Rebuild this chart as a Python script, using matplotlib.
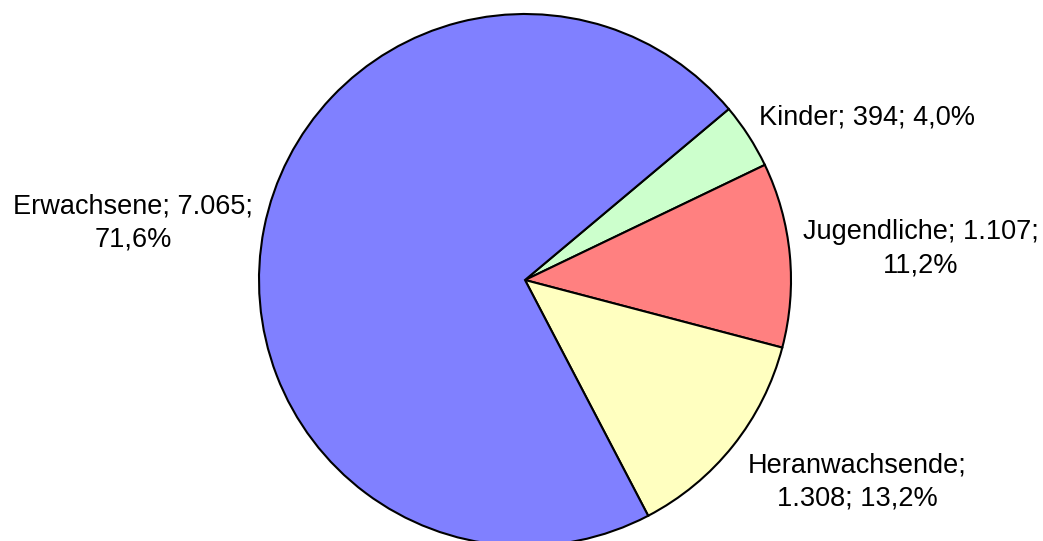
import matplotlib
matplotlib.use("Agg")
import matplotlib.pyplot as plt

# data
categories = ["Kinder", "Jugendliche", "Heranwachsende", "Erwachsene"]
values = [394, 1107, 1308, 7065]
shares = ["4,0%", "11,2%", "13,2%", "71,6%"]
counts = ["394", "1.107", "1.308", "7.065"]
colors = ["#CCFFCC", "#FF8080", "#FFFFC0", "#8080FF"]

plt.rcParams['font.family'] = ['Liberation Sans', 'DejaVu Sans']

fig = plt.figure(figsize=(10.43, 5.41), dpi=100)
ax = fig.add_axes([0, 0, 1, 1])
ax.set_xlim(0, 1043)
ax.set_ylim(0, 541)
ax.set_aspect('equal')
ax.axis('off')

ax.pie(values, colors=colors, startangle=40, counterclock=False,
       center=(525, 261), radius=266,
       wedgeprops=dict(edgecolor='black', linewidth=1.5))
ax.set_xlim(0, 1043)
ax.set_ylim(0, 541)

fs = 19.5
ls = 1.38
ax.text(759, 424, "%s; %s; %s" % (categories[0], counts[0], shares[0]),
        fontsize=fs, ha='left', va='center')
ax.text(921, 292, "%s; %s;\n%s" % (categories[1], counts[1], shares[1]),
        fontsize=fs, ha='center', va='center', linespacing=ls)
ax.text(857, 59, "%s;\n%s; %s" % (categories[2], counts[2], shares[2]),
        fontsize=fs, ha='center', va='center', linespacing=ls)
ax.text(133, 318, "%s; %s;\n%s" % (categories[3], counts[3], shares[3]),
        fontsize=fs, ha='center', va='center', linespacing=ls)

fig.savefig("out.png", dpi=100)
